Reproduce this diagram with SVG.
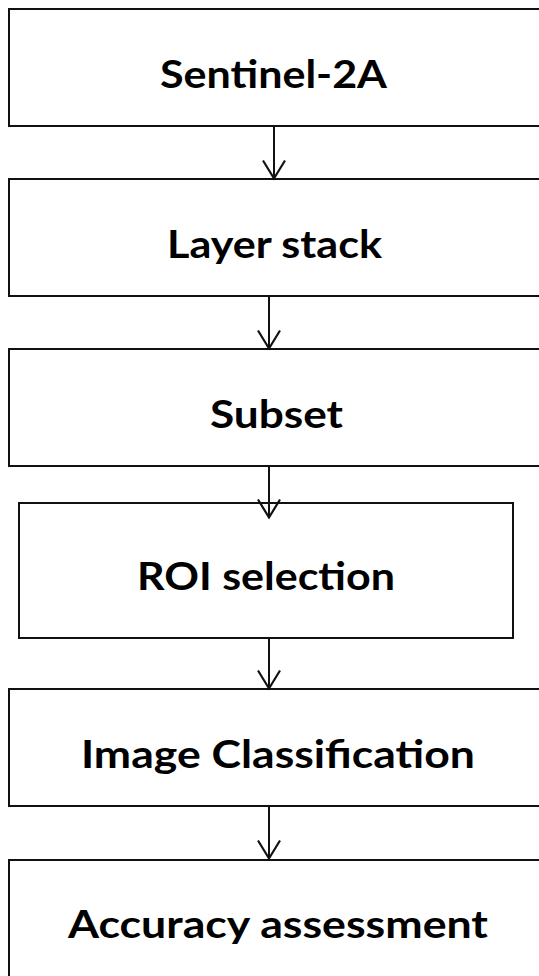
<svg xmlns="http://www.w3.org/2000/svg" width="539" height="976" viewBox="0 0 539 976">
  <style>
    .box { fill: #ffffff; stroke: #111111; stroke-width: 2; }
    .label { font-family: Lato, "Open Sans", "Liberation Sans", sans-serif; font-weight: 700; font-size: 39px; fill: #000000; }
    .link { fill: none; stroke: #111111; stroke-width: 2; }
    .head { fill: none; stroke: #111111; stroke-width: 2.2; stroke-linejoin: miter; }
  </style>
  <defs>
    <marker id="vee" markerUnits="userSpaceOnUse" markerWidth="40" markerHeight="40" refX="0" refY="0" orient="auto" overflow="visible">
      <path class="head" d="M-18,-11 L0,0 L-18,11"/>
    </marker>
  </defs>
  <rect width="539" height="976" fill="#ffffff"/>

  <g id="node-sentinel">
    <rect class="box" x="9" y="9" width="540" height="117"/>
    <text class="label" x="273.5" y="88" text-anchor="middle" textLength="227" lengthAdjust="spacingAndGlyphs">Sentinel-2A</text>
  </g>
  <g id="node-layer-stack">
    <rect class="box" x="9" y="179" width="540" height="117"/>
    <text class="label" x="274.5" y="258" text-anchor="middle" textLength="215" lengthAdjust="spacingAndGlyphs">Layer stack</text>
  </g>
  <g id="node-subset">
    <rect class="box" x="9" y="349" width="540" height="117"/>
    <text class="label" x="276.5" y="428" text-anchor="middle" textLength="133" lengthAdjust="spacingAndGlyphs">Subset</text>
  </g>
  <g id="node-roi">
    <rect class="box" x="19" y="503" width="494" height="135"/>
    <text class="label" x="266" y="590" text-anchor="middle" textLength="258" lengthAdjust="spacingAndGlyphs">ROI selection</text>
  </g>
  <g id="node-classification">
    <rect class="box" x="9" y="689" width="540" height="117"/>
    <text class="label" x="278" y="768" text-anchor="middle" textLength="394" lengthAdjust="spacingAndGlyphs">Image Classification</text>
  </g>
  <g id="node-accuracy">
    <rect class="box" x="9" y="860" width="540" height="130"/>
    <text class="label" x="278" y="938" text-anchor="middle" textLength="420" lengthAdjust="spacingAndGlyphs">Accuracy assessment</text>
  </g>

  <g id="connectors">
    <line class="link" x1="274" y1="126" x2="274" y2="178.5" marker-end="url(#vee)"/>
    <line class="link" x1="269" y1="296" x2="269" y2="348.5" marker-end="url(#vee)"/>
    <line class="link" x1="269" y1="466" x2="269" y2="517.5" marker-end="url(#vee)"/>
    <line class="link" x1="269" y1="638" x2="269" y2="688.5" marker-end="url(#vee)"/>
    <line class="link" x1="269" y1="806" x2="269" y2="858.5" marker-end="url(#vee)"/>
  </g>
</svg>
